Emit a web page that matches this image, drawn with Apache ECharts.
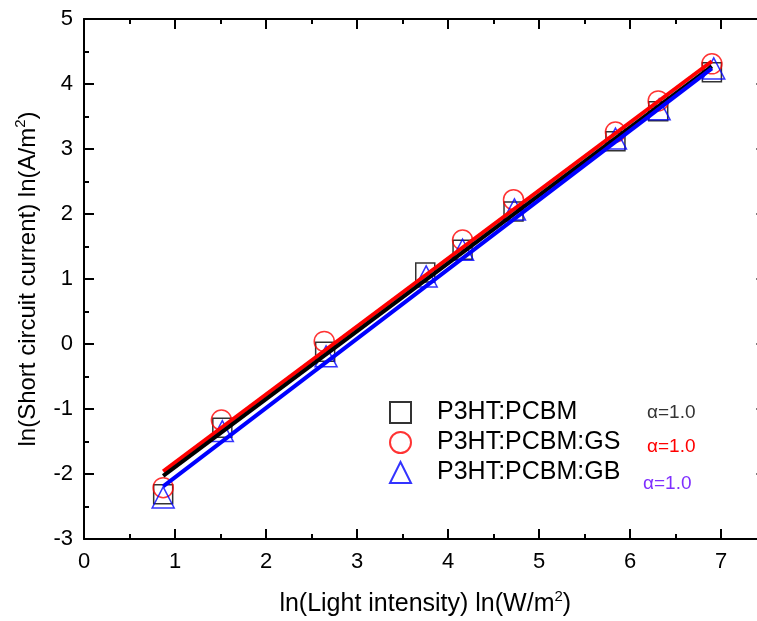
<!DOCTYPE html>
<html>
<head>
<meta charset="utf-8">
<script src="https://cdn.jsdelivr.net/npm/echarts@6/dist/echarts.min.js"></script>
<style>html,body{margin:0;padding:0;background:#fff;}#c{width:757px;height:621px;}</style>
</head>
<body>
<div id="c"></div>
<script>
// ---- data ----
var seriesNames = ['P3HT:PCBM', 'P3HT:PCBM:GS', 'P3HT:PCBM:GB'];
var xSq = [0.87, 1.52, 2.65, 3.75, 4.16, 4.72, 5.84, 6.31, 6.90];
var ySq = [-2.31, -1.29, -0.12, 1.10, 1.45, 2.04, 3.12, 3.58, 4.18];
var xCi = [0.87, 1.51, 2.64, 4.16, 4.72, 5.84, 6.31, 6.90];
var yCi = [-2.21, -1.17, 0.04, 1.60, 2.22, 3.26, 3.74, 4.31];
var xTr = [0.87, 1.52, 2.66, 3.76, 4.16, 4.73, 5.84, 6.32, 6.92];
var yTr = [-2.36, -1.34, -0.19, 1.04, 1.45, 2.07, 3.16, 3.61, 4.24];
// fitted lines (end points)
var fitX = [0.87, 6.90];
var fitSq = [-2.03, 4.27];
var fitCi = [-1.96, 4.35];
var fitTr = [-2.19, 4.24];
var alphaLabels = ['α=1.0', 'α=1.0', 'α=1.0'];
var xTickLabels = ['0', '1', '2', '3', '4', '5', '6', '7'];

function pairs(xs, ys) { return xs.map(function (x, i) { return [x, ys[i]]; }); }

var FONT = '"Liberation Sans", Arial, sans-serif';
var chart = echarts.init(document.getElementById('c'), null, { renderer: 'canvas' });
var SUP = { fontSize: 15, padding: [0, 0, 16, 0], fontFamily: FONT, color: '#000' };

function xMajor(pos, labels) {
  return {
    type: 'value', gridIndex: 0, position: pos, min: 0, max: 7.5, interval: 1,
    axisLine: { show: true, onZero: false, lineStyle: { color: '#000', width: 2 } },
    axisTick: { show: true, inside: true, length: 10, lineStyle: { color: '#000', width: 2 } },
    axisLabel: {
      show: labels, margin: 12, color: '#000', fontSize: 22, fontFamily: FONT,
      formatter: function (v) { return Number.isInteger(v) ? xTickLabels[v] : ''; }
    },
    splitLine: { show: false },
    name: labels ? 'ln(Light intensity) ln(W/m{sup|2})' : '',
    nameLocation: 'middle', nameGap: 50,
    nameTextStyle: { color: '#000', fontSize: 25, fontFamily: FONT, rich: { sup: SUP } }
  };
}
function xMinor(pos) {
  return {
    type: 'value', gridIndex: 0, position: pos, min: 0, max: 7.5, interval: 0.5,
    axisLine: { show: false, onZero: false },
    axisTick: { show: true, inside: true, length: 5, lineStyle: { color: '#000', width: 2 } },
    axisLabel: { show: false }, splitLine: { show: false }
  };
}
function yAxis(pos, labels) {
  return {
    type: 'value', gridIndex: 0, position: pos, min: -3, max: 5, interval: 1,
    axisLine: { show: true, onZero: false, lineStyle: { color: '#000', width: 2 } },
    axisTick: { show: true, inside: true, length: 10, lineStyle: { color: '#000', width: 2 } },
    minorTick: { show: true, splitNumber: 2, length: 5, lineStyle: { color: '#000', width: 2 } },
    axisLabel: { show: labels, margin: 11, color: '#000', fontSize: 22, fontFamily: FONT },
    splitLine: { show: false }, minorSplitLine: { show: false },
    name: labels ? 'ln(Short circuit current) ln(A/m{sup|2})' : '',
    nameLocation: 'middle', nameGap: 40, nameRotate: 90,
    nameTextStyle: { color: '#000', fontSize: 24, fontFamily: FONT, rich: { sup: SUP } }
  };
}

var option = {
  backgroundColor: '#fff',
  animation: false,
  grid: { left: 84, top: 19, right: -9.5, bottom: 82, containLabel: false, outerBoundsMode: 'none' },
  xAxis: [xMajor('bottom', true), xMinor('bottom'), xMajor('top', false), xMinor('top')],
  yAxis: [yAxis('left', true), yAxis('right', false)],
  legend: {
    data: seriesNames, orient: 'vertical', left: 384, top: 395,
    itemWidth: 21, itemHeight: 21, itemGap: 5,
    textStyle: { color: '#000', fontSize: 25, fontFamily: FONT, padding: [0, 0, 0, 21] }
  },
  series: [
    { name: seriesNames[0], type: 'scatter', data: pairs(xSq, ySq), symbol: 'rect', symbolSize: 19,
      itemStyle: { color: 'rgba(0,0,0,0)', borderColor: '#000', borderWidth: 1.5 }, z: 2 },
    { name: seriesNames[1], type: 'scatter', data: pairs(xCi, yCi), symbol: 'circle', symbolSize: 20,
      itemStyle: { color: 'rgba(0,0,0,0)', borderColor: '#ff0000', borderWidth: 1.5 }, z: 2 },
    { name: seriesNames[2], type: 'scatter', data: pairs(xTr, yTr), symbol: 'triangle', symbolSize: [22, 21],
      itemStyle: { color: 'rgba(0,0,0,0)', borderColor: '#0000ff', borderWidth: 1.5 }, z: 2 },
    { name: 'fitGS', type: 'line', data: pairs(fitX, fitCi), showSymbol: false, symbol: 'none',
      lineStyle: { color: '#ff0000', width: 4 }, z: 3 },
    { name: 'fitPCBM', type: 'line', data: pairs(fitX, fitSq), showSymbol: false, symbol: 'none',
      lineStyle: { color: '#000', width: 4 }, z: 3 },
    { name: 'fitGB', type: 'line', data: pairs(fitX, fitTr), showSymbol: false, symbol: 'none',
      lineStyle: { color: '#0000ff', width: 4 }, z: 3 }
  ],
  graphic: [
    { type: 'text', left: 647, top: 403, style: { text: alphaLabels[0], fill: '#333', fontSize: 19, fontFamily: FONT } },
    { type: 'text', left: 647, top: 437, style: { text: alphaLabels[1], fill: '#ff0000', fontSize: 19, fontFamily: FONT } },
    { type: 'text', left: 643, top: 474, style: { text: alphaLabels[2], fill: '#7f2fff', fontSize: 19, fontFamily: FONT } }
  ]
};
chart.setOption(option);
</script>
</body>
</html>
